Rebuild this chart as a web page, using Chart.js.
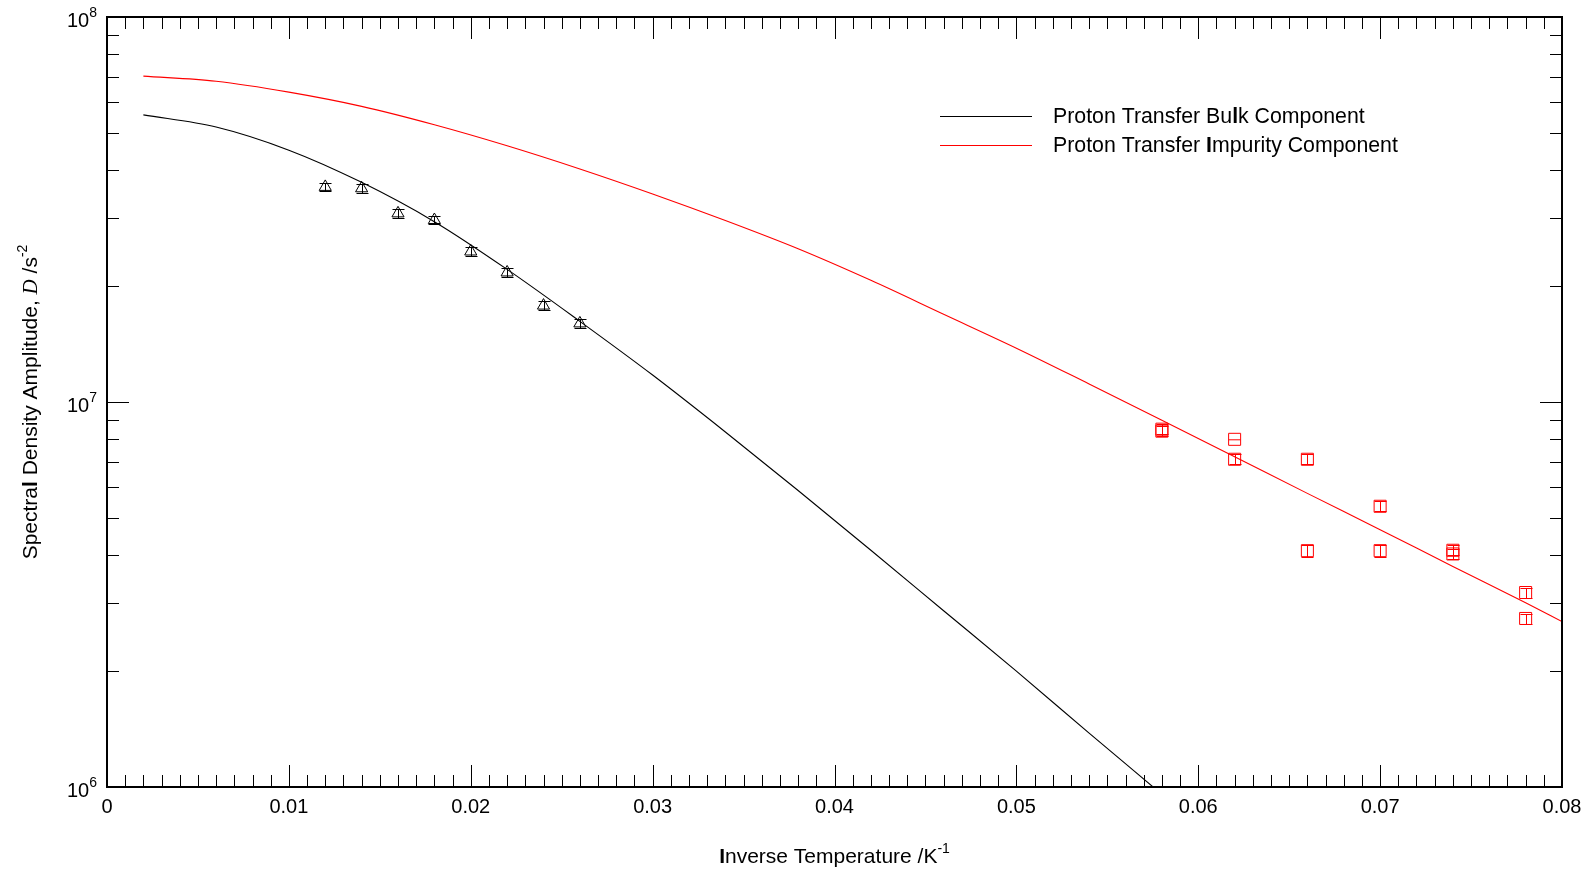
<!DOCTYPE html>
<html lang="en">
<head>
<meta charset="UTF-8">
<title>Spectral Density Amplitude vs Inverse Temperature</title>
<script src="https://cdn.jsdelivr.net/npm/chart.js"></script>
<style>
  html, body { margin: 0; padding: 0; background: #fff; }
  #wrap { width: 1592px; height: 873px; position: relative; }
</style>
</head>
<body>
<div id="wrap"><canvas id="chart"></canvas></div>
<script>
// fitted curves, sampled off the figure every 0.004
const bulkFitX = [0.002, 0.006, 0.010, 0.014, 0.018, 0.022, 0.026, 0.030, 0.034, 0.038, 0.042, 0.046, 0.050, 0.054, 0.058, 0.062];
const bulkFitY = [5.57e7, 5.18e7, 4.51e7, 3.72e7, 2.94e7, 2.21e7, 1.62e7, 1.175e7, 8.36e6, 5.89e6, 4.12e6, 2.87e6, 2.00e6, 1.38e6, 9.57e5, 6.62e5];
const impFitX = [0.002, 0.006, 0.010, 0.014, 0.018, 0.022, 0.026, 0.030, 0.034, 0.038, 0.042, 0.046, 0.050, 0.054, 0.058, 0.062, 0.066, 0.070, 0.074, 0.078, 0.080];
const impFitY = [7.02e7, 6.81e7, 6.38e7, 5.86e7, 5.25e7, 4.63e7, 4.03e7, 3.47e7, 2.96e7, 2.50e7, 2.07e7, 1.69e7, 1.38e7, 1.114e7, 8.97e6, 7.21e6, 5.79e6, 4.66e6, 3.74e6, 3.01e6, 2.69e6];

// measured points
const bulkX = [0.012, 0.014, 0.016, 0.018, 0.020, 0.022, 0.024, 0.026];
const bulkY = [3.62e7, 3.59e7, 3.09e7, 2.97e7, 2.46e7, 2.17e7, 1.78e7, 1.60e7];
const bulkErr = [0.025, 0.025, 0.025, 0.025, 0.025, 0.025, 0.025, 0.025];
const impX = [0.058, 0.058, 0.062, 0.062, 0.066, 0.066, 0.070, 0.070, 0.074, 0.074, 0.078, 0.078];
const impY = [8.5e6, 8.4e6, 8.0e6, 7.1e6, 7.1e6, 4.11e6, 5.36e6, 4.11e6, 4.12e6, 4.03e6, 3.2e6, 2.74e6];
const impErr = [0.03, 0.03, 0, 0.03, 0.03, 0.035, 0.03, 0.035, 0.03, 0.03, 0.03, 0.03];

// axes
const xTicks = [0, 0.01, 0.02, 0.03, 0.04, 0.05, 0.06, 0.07, 0.08];
const xTickLabels = ['0', '0.01', '0.02', '0.03', '0.04', '0.05', '0.06', '0.07', '0.08'];
const yDecades = [6, 7, 8];

const seriesNames = ['Proton Transfer Bulk Component', 'Proton Transfer Impurity Component'];

const SANS = '"Liberation Sans", Arial, sans-serif';
const SERIF = '"Liberation Serif", "Times New Roman", serif';

function pts(xs, ys) { return xs.map((x, i) => ({ x: x, y: ys[i] })); }

function segFont(s, size) {
  const sz = s.sup ? Math.round(size * 0.68) : size;
  return (s.italic ? 'italic ' : '') + (s.bold ? 'bold ' : '') + sz + 'px ' + (s.serif ? SERIF : SANS);
}

function drawRich(ctx, segs, x, y, size, align) {
  let w = 0;
  segs.forEach(s => { ctx.font = segFont(s, size); s.w = ctx.measureText(s.t).width; w += s.w; });
  let cx = align === 'center' ? x - w / 2 : (align === 'right' ? x - w : x);
  ctx.textAlign = 'left';
  ctx.textBaseline = 'alphabetic';
  segs.forEach(s => {
    ctx.font = segFont(s, size);
    ctx.fillText(s.t, cx, y + (s.sup ? -size * 0.5 : 0));
    cx += s.w;
  });
}

// frame, inward ticks, labels, titles, legend
const decorPlugin = {
  id: 'decor',
  afterDatasetsDraw(chart) {
    const ctx = chart.ctx;
    const xs = chart.scales.x, ys = chart.scales.y;
    const a = chart.chartArea;
    ctx.save();

    // error bars
    const drawErr = (xv, yv, ev, color) => {
      ctx.strokeStyle = color;
      ctx.lineWidth = 1;
      xv.forEach((x, i) => {
        if (!ev[i]) {
          const px = xs.getPixelForValue(x), py = ys.getPixelForValue(yv[i]);
          ctx.beginPath(); ctx.moveTo(px - 6, py + 0.5); ctx.lineTo(px + 6, py + 0.5); ctx.stroke();
          return;
        }
        const px = Math.round(xs.getPixelForValue(x)) + 0.5;
        const top = Math.round(ys.getPixelForValue(yv[i] * (1 + ev[i]))) + 0.5;
        const bot = Math.round(ys.getPixelForValue(yv[i] * (1 - ev[i]))) + 0.5;
        ctx.beginPath();
        ctx.moveTo(px, top); ctx.lineTo(px, bot);
        ctx.moveTo(px - 6, top); ctx.lineTo(px + 6, top);
        ctx.moveTo(px - 6, bot); ctx.lineTo(px + 6, bot);
        ctx.stroke();
      });
    };
    drawErr(bulkX, bulkY, bulkErr, '#000');
    drawErr(impX, impY, impErr, '#ff0000');

    // ticks
    ctx.strokeStyle = '#000';
    ctx.lineWidth = 1;
    ctx.beginPath();
    for (let k = 1; k < 80; k++) {
      const px = Math.round(xs.getPixelForValue(k / 1000)) + 0.5;
      const len = k % 10 === 0 ? 22 : 12;
      ctx.moveTo(px, a.bottom); ctx.lineTo(px, a.bottom - len);
      ctx.moveTo(px, a.top); ctx.lineTo(px, a.top + len);
    }
    for (let d = 6; d < 8; d++) {
      for (let m = 1; m < 10; m++) {
        if (d === 6 && m === 1) continue;
        const py = Math.round(ys.getPixelForValue(m * Math.pow(10, d))) + 0.5;
        const len = m === 1 ? 22 : 12;
        ctx.moveTo(a.left, py); ctx.lineTo(a.left + len, py);
        ctx.moveTo(a.right, py); ctx.lineTo(a.right - len, py);
      }
    }
    ctx.stroke();

    // frame
    ctx.lineWidth = 2;
    ctx.strokeRect(a.left, a.top, a.right - a.left, a.bottom - a.top);

    ctx.fillStyle = '#000';
    // x tick labels
    ctx.font = '20px ' + SANS;
    ctx.textAlign = 'center';
    ctx.textBaseline = 'alphabetic';
    xTicks.forEach((v, i) => {
      ctx.fillText(xTickLabels[i], xs.getPixelForValue(v), a.bottom + 26);
    });
    // y tick labels
    yDecades.forEach(d => {
      const py = ys.getPixelForValue(Math.pow(10, d));
      drawRich(ctx, [{ t: '10' }, { t: String(d), sup: true }], 97, py + 10, 20, 'right');
    });

    // axis titles
    drawRich(ctx, [{ t: 'I', bold: true }, { t: 'nverse Temperature /K' }, { t: '-1', sup: true }],
      (a.left + a.right) / 2, 863, 21, 'center');
    ctx.save();
    ctx.translate(37, (a.top + a.bottom) / 2);
    ctx.rotate(-Math.PI / 2);
    drawRich(ctx, [{ t: 'Spectra' }, { t: 'l', bold: true }, { t: ' Density Amplitude, ' },
      { t: 'D', italic: true, serif: true }, { t: ' /s' }, { t: '-2', sup: true }], 0, 0, 21, 'center');
    ctx.restore();

    // legend
    const legendRows = [
      { y: 116, color: '#000', segs: [{ t: 'Proton Transfer Bu' }, { t: 'l', bold: true }, { t: 'k Component' }] },
      { y: 145, color: '#ff0000', segs: [{ t: 'Proton Transfer ' }, { t: 'I', bold: true }, { t: 'mpurity Component' }] }
    ];
    legendRows.forEach(r => {
      ctx.strokeStyle = r.color;
      ctx.lineWidth = 1.2;
      ctx.beginPath(); ctx.moveTo(940, r.y + 0.5); ctx.lineTo(1032, r.y + 0.5); ctx.stroke();
      ctx.fillStyle = '#000';
      drawRich(ctx, r.segs, 1053, r.y + 7, 21.3, 'left');
    });

    ctx.restore();
  }
};

new Chart(document.getElementById('chart'), {
  type: 'scatter',
  data: {
    datasets: [
      {
        label: seriesNames[0],
        data: pts(bulkFitX, bulkFitY),
        showLine: true,
        borderColor: '#000',
        borderWidth: 1.1,
        pointRadius: 0,
        cubicInterpolationMode: 'monotone'
      },
      {
        label: seriesNames[1],
        data: pts(impFitX, impFitY),
        showLine: true,
        borderColor: '#ff0000',
        borderWidth: 1.1,
        pointRadius: 0,
        cubicInterpolationMode: 'monotone'
      },
      {
        label: 'bulk data',
        data: pts(bulkX, bulkY),
        pointStyle: 'triangle',
        pointRadius: 7,
        borderColor: '#000',
        backgroundColor: 'rgba(0,0,0,0)',
        borderWidth: 1
      },
      {
        label: 'impurity data',
        data: pts(impX, impY),
        pointStyle: 'rect',
        pointRadius: 8.5,
        borderColor: '#ff0000',
        backgroundColor: 'rgba(0,0,0,0)',
        borderWidth: 1
      }
    ]
  },
  options: {
    responsive: true,
    maintainAspectRatio: false,
    animation: false,
    layout: { padding: { left: 107, top: 17, right: 30, bottom: 86 } },
    plugins: { legend: { display: false }, tooltip: { enabled: false } },
    scales: {
      x: {
        type: 'linear', min: 0, max: 0.08,
        ticks: { display: false },
        grid: { display: false, drawTicks: false, tickLength: 0 },
        border: { display: false },
        title: { display: false }
      },
      y: {
        type: 'logarithmic', min: 1e6, max: 1e8,
        ticks: { display: false },
        grid: { display: false, drawTicks: false, tickLength: 0 },
        border: { display: false },
        title: { display: false }
      }
    }
  },
  plugins: [decorPlugin]
});
</script>
</body>
</html>
